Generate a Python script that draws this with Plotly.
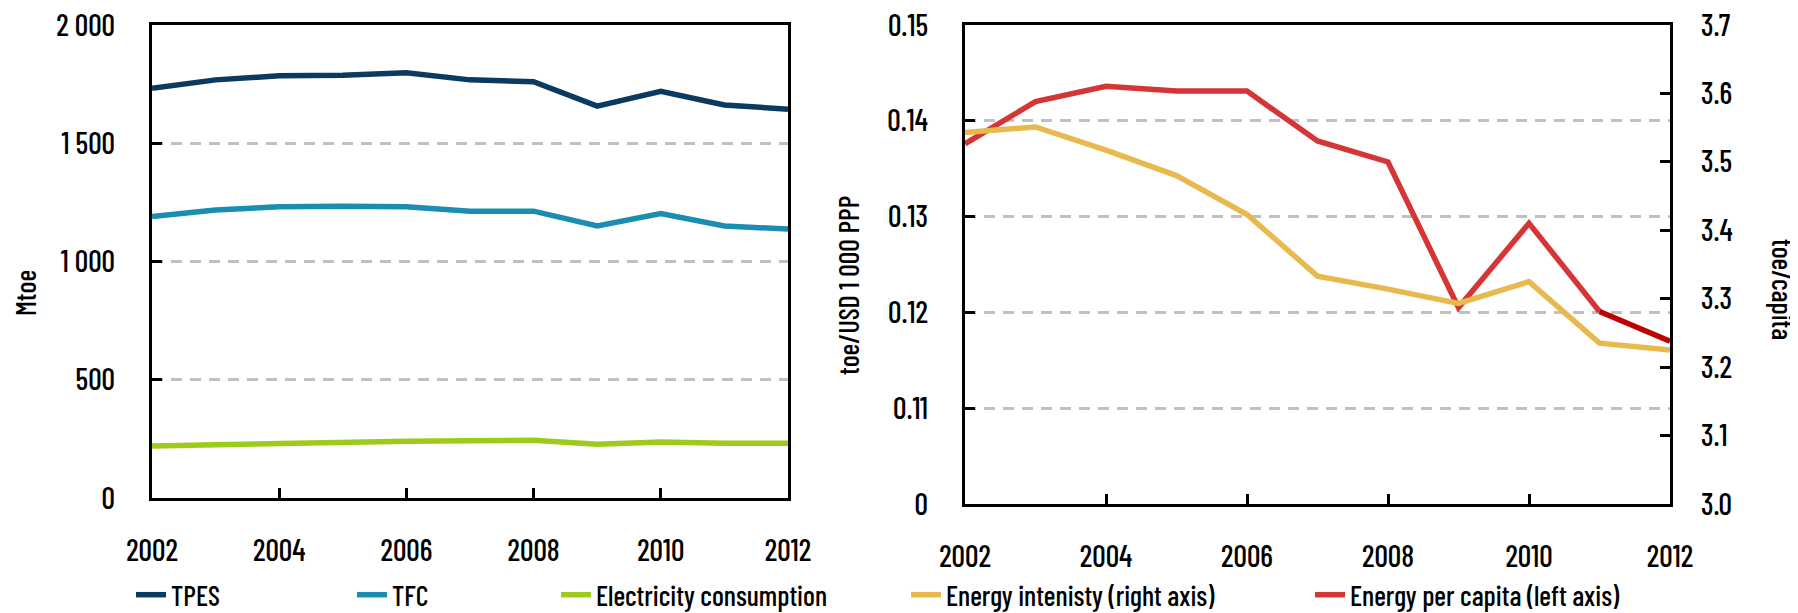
import plotly.graph_objects as go

years = [2002, 2003, 2004, 2005, 2006, 2007, 2008, 2009, 2010, 2011, 2012]
tpes = [1732, 1768, 1785, 1788, 1798, 1768, 1760, 1657, 1720, 1662, 1644]
tfc = [1190, 1218, 1231, 1234, 1231, 1213, 1213, 1150, 1203, 1150, 1137]
electricity = [220, 226, 232, 236, 240, 242, 244, 227, 237, 232, 232]
energy_intensity = [3.543, 3.551, 3.517, 3.480, 3.423, 3.333, 3.314, 3.293, 3.325, 3.235, 3.225]
energy_per_capita = [0.1376, 0.1420, 0.1436, 0.1431, 0.1431, 0.1379, 0.1357, 0.1205, 0.1293, 0.1201, 0.1170]

left_ticks = [0, 500, 1000, 1500, 2000]
left_ticktext = ["0", "500", "1 000", "1 500", "2 000"]
right_left_ticks = [0.10, 0.11, 0.12, 0.13, 0.14, 0.15]
right_left_ticktext = ["0", "0.11", "0.12", "0.13", "0.14", "0.15"]
right_right_ticks = [3.0, 3.1, 3.2, 3.3, 3.4, 3.5, 3.6, 3.7]
year_ticks = [2002, 2004, 2006, 2008, 2010, 2012]

FONT = "Barlow Condensed, Archivo Narrow, Asap Condensed, DejaVu Sans Condensed, sans-serif"
C_TPES = "#0b3a60"
C_TFC = "#1a8db0"
C_ELEC = "#9dcb1c"
C_INT = "#e8b94f"
C_CAP = "#d63535"
C_CAP2 = "#c00000"
W = 1798
H = 613
OFF = 8  # page body margin offset
LW = 5.5


def px(x):
    return (x - OFF) / W


def py(y):
    return 1 - (y - OFF) / H


fig = go.Figure()

fig.add_trace(go.Scatter(x=years, y=tpes, name="TPES", mode="lines",
                         line=dict(color=C_TPES, width=LW), xaxis="x", yaxis="y", legend="legend"))
fig.add_trace(go.Scatter(x=years, y=tfc, name="TFC", mode="lines",
                         line=dict(color=C_TFC, width=LW), xaxis="x", yaxis="y", legend="legend2"))
fig.add_trace(go.Scatter(x=years, y=electricity, name="Electricity consumption", mode="lines",
                         line=dict(color=C_ELEC, width=LW), xaxis="x", yaxis="y", legend="legend3"))
fig.add_trace(go.Scatter(x=years, y=energy_intensity, name="Energy intenisty (right axis)", mode="lines",
                         line=dict(color=C_INT, width=LW), xaxis="x2", yaxis="y3", legend="legend4"))
fig.add_trace(go.Scatter(x=years[:-1], y=energy_per_capita[:-1], name="Energy per capita (left axis)", mode="lines",
                         line=dict(color=C_CAP, width=LW), xaxis="x2", yaxis="y2", legend="legend5"))
fig.add_trace(go.Scatter(x=years[-2:], y=energy_per_capita[-2:], name="Energy per capita (left axis)", mode="lines",
                         line=dict(color=C_CAP2, width=LW), xaxis="x2", yaxis="y2", showlegend=False))

tickfont = dict(family=FONT, size=30, color="#000000", weight=500)
axline = dict(showline=True, linecolor="#000000", linewidth=3, mirror=True,
              ticks="inside", ticklen=10, tickwidth=3, tickcolor="#000000",
              zeroline=False, tickfont=tickfont, ticklabeloverflow="allow")
grid = dict(showgrid=True, gridcolor="#c0c0c0", gridwidth=3, griddash="11px,8px")

fig.update_layout(
    width=W, height=H,
    margin=dict(l=0, r=0, t=0, b=0, autoexpand=False),
    paper_bgcolor="white", plot_bgcolor="white",
    font=dict(family=FONT, size=30, color="#000000", weight=500),
    xaxis=dict(domain=[px(152), px(788)], range=[2002, 2012], tickvals=year_ticks, showgrid=False,
               ticklabelstandoff=24, anchor="y", automargin=False, **axline),
    yaxis=dict(domain=[py(498), py(25)], range=[0, 2000], tickvals=left_ticks, ticktext=left_ticktext,
               ticklabelstandoff=28, anchor="x", automargin=False, **grid, **axline),
    xaxis2=dict(domain=[px(965), px(1670)], range=[2002, 2012], tickvals=year_ticks, showgrid=False,
                ticklabelstandoff=24, anchor="y2", automargin=False, **axline),
    yaxis2=dict(domain=[py(504), py(25)], range=[0.10, 0.15], tickvals=right_left_ticks,
                ticktext=right_left_ticktext, ticklabelstandoff=28, anchor="x2", automargin=False,
                **grid, **axline),
    yaxis3=dict(range=[3.0, 3.7], tickvals=right_right_ticks, tickformat=".1f", overlaying="y2",
                side="right", anchor="x2", showgrid=False, showline=False, ticks="inside", ticklen=10,
                tickwidth=3, tickcolor="#000000", zeroline=False, tickfont=tickfont,
                ticklabelstandoff=30, automargin=False, ticklabeloverflow="allow"),
    showlegend=True,
)

leg_common = dict(orientation="h", yanchor="middle", y=py(595), xanchor="left",
                  font=dict(family=FONT, size=28, color="#000000", weight=500),
                  bgcolor="rgba(0,0,0,0)", borderwidth=0)
leg_x = [131, 352, 556, 906, 1310]
fig.update_layout(
    legend=dict(x=px(leg_x[0]), **leg_common),
    legend2=dict(x=px(leg_x[1]), **leg_common),
    legend3=dict(x=px(leg_x[2]), **leg_common),
    legend4=dict(x=px(leg_x[3]), **leg_common),
    legend5=dict(x=px(leg_x[4]), **leg_common),
)

ann_font = dict(family=FONT, size=28, color="#000000", weight=500)
fig.add_annotation(text="Mtoe", x=px(25), y=py(293), xref="paper", yref="paper",
                   xanchor="center", yanchor="middle", textangle=-90, showarrow=False, font=ann_font)
fig.add_annotation(text="toe/USD 1 000 PPP", x=px(848), y=py(286), xref="paper", yref="paper",
                   xanchor="center", yanchor="middle", textangle=-90, showarrow=False, font=ann_font)
fig.add_annotation(text="toe/capita", x=px(1783), y=py(289), xref="paper", yref="paper",
                   xanchor="center", yanchor="middle", textangle=90, showarrow=False, font=ann_font)

fig.write_html("out.html")
